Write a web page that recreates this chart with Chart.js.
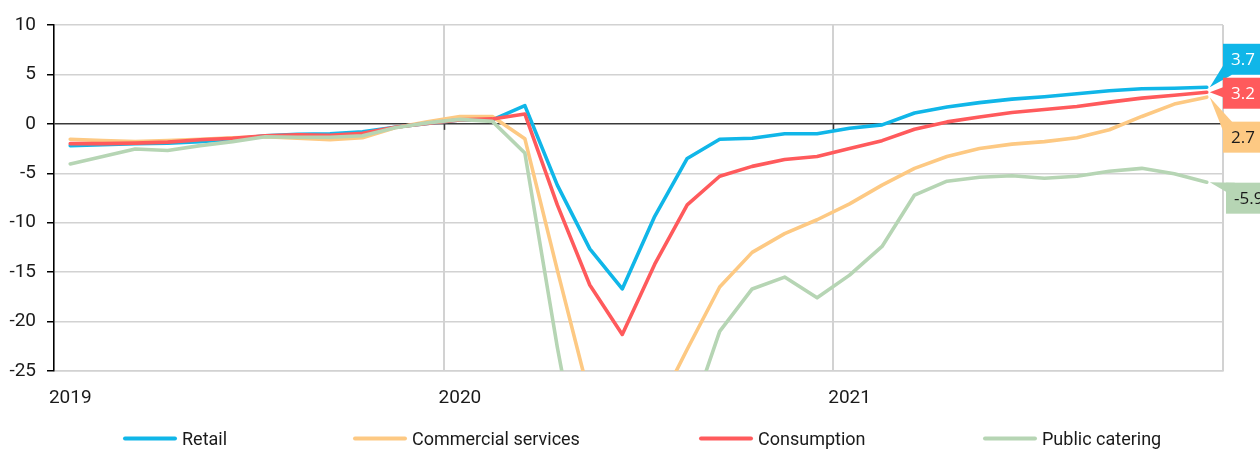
<!DOCTYPE html>
<html>
<head>
<meta charset="utf-8">
<script src="https://cdn.jsdelivr.net/npm/chart.js@4/dist/chart.umd.min.js"></script>
<style>
  html, body { margin: 0; padding: 0; background: #ffffff; }
  #wrap { width: 1260px; height: 449px; position: relative; }
</style>
</head>
<body>
<div id="wrap"><canvas id="chart"></canvas></div>
<script>
// Monthly readings, Jan 2019 – Dec 2021 (% y/y)
const years = ['2019', '2020', '2021'];
const monthNames = ['Jan', 'Feb', 'Mar', 'Apr', 'May', 'Jun', 'Jul', 'Aug', 'Sep', 'Oct', 'Nov', 'Dec'];
const categories = years.flatMap(y => monthNames.map(m => m + ' ' + y));

const seriesNames = ['Retail', 'Commercial services', 'Consumption', 'Public catering'];

const retail = [
  -2.2, -2.1, -2.0, -1.95, -1.8, -1.55, -1.2, -1.05, -1.0, -0.8, -0.35, 0.05,
  0.4, 0.4, 1.85, -6.2, -12.65, -16.7, -9.35, -3.5, -1.55, -1.45, -1.0, -1.0,
  -0.45, -0.1, 1.1, 1.7, 2.15, 2.5, 2.75, 3.05, 3.35, 3.55, 3.6, 3.7
];
const commercialServices = [
  -1.55, -1.7, -1.8, -1.7, -1.55, -1.4, -1.3, -1.45, -1.6, -1.4, -0.4, 0.2,
  0.75, 0.75, -1.5, -14.8, -27.7, -33.0, -29.3, -22.8, -16.5, -13.0, -11.1, -9.7,
  -8.1, -6.2, -4.5, -3.3, -2.5, -2.05, -1.8, -1.4, -0.6, 0.75, 2.0, 2.7
];
const consumption = [
  -2.0, -2.0, -1.95, -1.85, -1.6, -1.45, -1.2, -1.1, -1.15, -0.95, -0.35, 0.05,
  0.4, 0.5, 1.0, -8.2, -16.3, -21.3, -14.2, -8.2, -5.3, -4.3, -3.6, -3.3,
  -2.5, -1.7, -0.55, 0.2, 0.7, 1.15, 1.45, 1.75, 2.2, 2.6, 2.9, 3.2
];
const publicCatering = [
  -4.05, -3.3, -2.55, -2.7, -2.2, -1.8, -1.3, -1.35, -1.35, -1.2, -0.4, 0.1,
  0.45, 0.25, -2.95, -22.6, -40.0, -45.0, -38.0, -30.6, -21.0, -16.7, -15.5, -17.6,
  -15.3, -12.4, -7.2, -5.8, -5.4, -5.25, -5.5, -5.3, -4.8, -4.5, -5.05, -5.9
];

const yTicks = [-25, -20, -15, -10, -5, 0, 5, 10];

// styling
const colors = ['#10b6e8', '#fdc983', '#ff5a5c', '#b6d5b4'];
const labelTextColors = ['#ffffff', '#1a1a1a', '#ffffff', '#1a1a1a'];
const calloutShift = [-28, 40, 1, 16];      // box centre relative to last point (px)
const calloutInset = [0, 0, 0, 3];          // extra left offset of each box (px)
const legendStarts = [125, 355, 701, 985];  // legend swatch x positions
const uiFont = "Roboto, 'Noto Sans', sans-serif";
const gridGrey = '#d2d2d2';
const axisDark = '#3a3a3a';

const seriesData = [retail, commercialServices, consumption, publicCatering];

const datasets = seriesData.map((d, i) => ({
  label: seriesNames[i],
  data: d,
  borderColor: colors[i],
  backgroundColor: colors[i],
  borderWidth: 3.6,
  pointRadius: 0,
  tension: 0,
  borderJoinStyle: 'round',
  borderCapStyle: 'round',
  order: seriesData.length - i
}));

// small ticks on the zero line at each year boundary
const yearTicks = {
  id: 'yearTicks',
  beforeDatasetsDraw(chart) {
    const xs = chart.scales.x, ys = chart.scales.y, ctx = chart.ctx;
    const y0 = ys.getPixelForValue(0);
    ctx.save();
    ctx.strokeStyle = axisDark;
    ctx.lineWidth = 1.5;
    for (let i = 12; i < categories.length; i += 12) {
      const x = (xs.getPixelForValue(i - 1) + xs.getPixelForValue(i)) / 2;
      ctx.beginPath();
      ctx.moveTo(Math.round(x) + 0.5, y0);
      ctx.lineTo(Math.round(x) + 0.5, y0 + 6);
      ctx.stroke();
    }
    ctx.restore();
  }
};

// value callouts at the end of each line
const endCallouts = {
  id: 'endCallouts',
  afterDraw(chart) {
    const ctx = chart.ctx;
    const w = 44, h = 31;
    ctx.save();
    chart.data.datasets.forEach((ds, i) => {
      const left = chart.chartArea.right + calloutInset[i];
      const meta = chart.getDatasetMeta(i);
      const last = meta.data.length - 1;
      const pt = meta.data[last];
      const value = ds.data[last];
      const ax = pt.x + 3, ay = pt.y;
      const cy = ay + calloutShift[i];
      const top = cy - h / 2, bottom = cy + h / 2;
      ctx.fillStyle = colors[i];
      ctx.fillRect(left, top, w, h);
      let b1, b2;
      if (ay > bottom - 4) { b1 = [left, bottom - 9]; b2 = [left + 9, bottom]; }
      else if (ay < top + 4) { b1 = [left, top + 9]; b2 = [left + 9, top]; }
      else { b1 = [left, ay - 5]; b2 = [left, ay + 5]; }
      ctx.beginPath();
      ctx.moveTo(ax, ay);
      ctx.lineTo(b1[0], b1[1]);
      ctx.lineTo(b2[0], b2[1]);
      ctx.closePath();
      ctx.fill();
      ctx.fillStyle = labelTextColors[i];
      ctx.font = "17px 'Open Sans', sans-serif";
      ctx.textAlign = 'left';
      ctx.textBaseline = 'middle';
      ctx.fillText(value.toFixed(1), left + 8, cy + 1);
    });
    ctx.restore();
  }
};

// legend row along the bottom
const bottomKey = {
  id: 'bottomKey',
  afterDraw(chart) {
    const ctx = chart.ctx;
    const y = 438.5;
    ctx.save();
    chart.data.datasets.forEach((ds, i) => {
      const x0 = legendStarts[i];
      ctx.strokeStyle = colors[i];
      ctx.lineWidth = 4;
      ctx.lineCap = 'round';
      ctx.beginPath();
      ctx.moveTo(x0, y);
      ctx.lineTo(x0 + 50, y);
      ctx.stroke();
      ctx.fillStyle = '#1a1a1a';
      ctx.font = '18px ' + uiFont;
      ctx.textAlign = 'left';
      ctx.textBaseline = 'middle';
      ctx.fillText(ds.label, x0 + 57, y + 2);
    });
    ctx.restore();
  }
};

new Chart(document.getElementById('chart'), {
  type: 'line',
  data: { labels: categories, datasets },
  plugins: [yearTicks, endCallouts, bottomKey],
  options: {
    responsive: true,
    maintainAspectRatio: false,
    animation: false,
    layout: { padding: { top: 25, right: 37, bottom: 0, left: 0 } },
    plugins: {
      legend: { display: false },
      tooltip: { enabled: false }
    },
    scales: {
      x: {
        type: 'category',
        offset: true,
        grid: {
          offset: true,
          drawTicks: false,
          lineWidth: 2,
          color: c => (c.index === undefined || c.index % 12 === 0) ? gridGrey : 'rgba(0,0,0,0)'
        },
        border: { display: true, color: gridGrey, width: 1.5 },
        ticks: {
          autoSkip: false,
          maxRotation: 0,
          minRotation: 0,
          padding: 16,
          color: '#1a1a1a',
          font: { family: uiFont, size: 19 },
          callback: (v, i) => (i % 12 === 0) ? years[i / 12] : ''
        },
        afterFit: s => { s.height = 78; }
      },
      y: {
        min: yTicks[0],
        max: yTicks[yTicks.length - 1],
        afterBuildTicks: s => { s.ticks = yTicks.map(v => ({ value: v })); },
        grid: {
          lineWidth: 1.5,
          color: c => (c.tick && c.tick.value === 0) ? axisDark : gridGrey,
          drawTicks: true,
          tickLength: 7,
          tickColor: '#000000',
          tickWidth: 1.5
        },
        border: { display: true, color: '#000000', width: 1.5 },
        ticks: {
          padding: 11,
          color: '#1a1a1a',
          font: { family: uiFont, size: 19 }
        },
        afterFit: s => { s.width = 54; }
      }
    }
  }
});
</script>
</body>
</html>
